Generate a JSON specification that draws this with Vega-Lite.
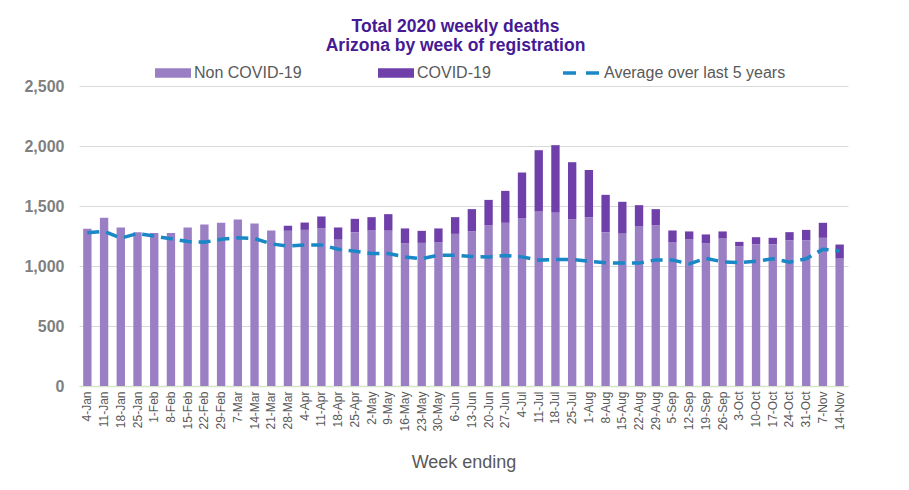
{
  "$schema": "https://vega.github.io/schema/vega-lite/v6.json",
  "width": 769,
  "height": 300,
  "autosize": {"type": "none"},
  "padding": {"left": 79, "top": 86, "right": 61, "bottom": 104},
  "background": "white",
  "config": {
    "font": "Liberation Sans",
    "view": {"stroke": null}
  },
  "title": {
    "text": ["Total 2020 weekly deaths", "Arizona by week of registration"],
    "font": "Liberation Sans",
    "fontSize": 17.5,
    "fontWeight": "bold",
    "color": "#451A94",
    "lineHeight": 19,
    "anchor": "middle",
    "offset": 12,
    "dx": -8,
    "dy": 13
  },
  "datasets": {
    "bars": [
      {"week": "4-Jan", "type": "Non COVID-19", "deaths": 1310}, {"week": "4-Jan", "type": "COVID-19", "deaths": 0},
      {"week": "11-Jan", "type": "Non COVID-19", "deaths": 1402}, {"week": "11-Jan", "type": "COVID-19", "deaths": 0},
      {"week": "18-Jan", "type": "Non COVID-19", "deaths": 1321}, {"week": "18-Jan", "type": "COVID-19", "deaths": 0},
      {"week": "25-Jan", "type": "Non COVID-19", "deaths": 1282}, {"week": "25-Jan", "type": "COVID-19", "deaths": 0},
      {"week": "1-Feb", "type": "Non COVID-19", "deaths": 1274}, {"week": "1-Feb", "type": "COVID-19", "deaths": 0},
      {"week": "8-Feb", "type": "Non COVID-19", "deaths": 1274}, {"week": "8-Feb", "type": "COVID-19", "deaths": 0},
      {"week": "15-Feb", "type": "Non COVID-19", "deaths": 1321}, {"week": "15-Feb", "type": "COVID-19", "deaths": 0},
      {"week": "22-Feb", "type": "Non COVID-19", "deaths": 1346}, {"week": "22-Feb", "type": "COVID-19", "deaths": 0},
      {"week": "29-Feb", "type": "Non COVID-19", "deaths": 1360}, {"week": "29-Feb", "type": "COVID-19", "deaths": 0},
      {"week": "7-Mar", "type": "Non COVID-19", "deaths": 1388}, {"week": "7-Mar", "type": "COVID-19", "deaths": 0},
      {"week": "14-Mar", "type": "Non COVID-19", "deaths": 1354}, {"week": "14-Mar", "type": "COVID-19", "deaths": 0},
      {"week": "21-Mar", "type": "Non COVID-19", "deaths": 1296}, {"week": "21-Mar", "type": "COVID-19", "deaths": 0},
      {"week": "28-Mar", "type": "Non COVID-19", "deaths": 1293}, {"week": "28-Mar", "type": "COVID-19", "deaths": 42},
      {"week": "4-Apr", "type": "Non COVID-19", "deaths": 1301}, {"week": "4-Apr", "type": "COVID-19", "deaths": 61},
      {"week": "11-Apr", "type": "Non COVID-19", "deaths": 1315}, {"week": "11-Apr", "type": "COVID-19", "deaths": 97},
      {"week": "18-Apr", "type": "Non COVID-19", "deaths": 1224}, {"week": "18-Apr", "type": "COVID-19", "deaths": 97},
      {"week": "25-Apr", "type": "Non COVID-19", "deaths": 1282}, {"week": "25-Apr", "type": "COVID-19", "deaths": 111},
      {"week": "2-May", "type": "Non COVID-19", "deaths": 1296}, {"week": "2-May", "type": "COVID-19", "deaths": 111},
      {"week": "9-May", "type": "Non COVID-19", "deaths": 1299}, {"week": "9-May", "type": "COVID-19", "deaths": 133},
      {"week": "16-May", "type": "Non COVID-19", "deaths": 1188}, {"week": "16-May", "type": "COVID-19", "deaths": 125},
      {"week": "23-May", "type": "Non COVID-19", "deaths": 1193}, {"week": "23-May", "type": "COVID-19", "deaths": 100},
      {"week": "30-May", "type": "Non COVID-19", "deaths": 1196}, {"week": "30-May", "type": "COVID-19", "deaths": 117},
      {"week": "6-Jun", "type": "Non COVID-19", "deaths": 1268}, {"week": "6-Jun", "type": "COVID-19", "deaths": 139},
      {"week": "13-Jun", "type": "Non COVID-19", "deaths": 1288}, {"week": "13-Jun", "type": "COVID-19", "deaths": 186},
      {"week": "20-Jun", "type": "Non COVID-19", "deaths": 1338}, {"week": "20-Jun", "type": "COVID-19", "deaths": 213},
      {"week": "27-Jun", "type": "Non COVID-19", "deaths": 1360}, {"week": "27-Jun", "type": "COVID-19", "deaths": 266},
      {"week": "4-Jul", "type": "Non COVID-19", "deaths": 1396}, {"week": "4-Jul", "type": "COVID-19", "deaths": 383},
      {"week": "11-Jul", "type": "Non COVID-19", "deaths": 1454}, {"week": "11-Jul", "type": "COVID-19", "deaths": 511},
      {"week": "18-Jul", "type": "Non COVID-19", "deaths": 1449}, {"week": "18-Jul", "type": "COVID-19", "deaths": 558},
      {"week": "25-Jul", "type": "Non COVID-19", "deaths": 1388}, {"week": "25-Jul", "type": "COVID-19", "deaths": 477},
      {"week": "1-Aug", "type": "Non COVID-19", "deaths": 1407}, {"week": "1-Aug", "type": "COVID-19", "deaths": 392},
      {"week": "8-Aug", "type": "Non COVID-19", "deaths": 1282}, {"week": "8-Aug", "type": "COVID-19", "deaths": 311},
      {"week": "15-Aug", "type": "Non COVID-19", "deaths": 1274}, {"week": "15-Aug", "type": "COVID-19", "deaths": 261},
      {"week": "22-Aug", "type": "Non COVID-19", "deaths": 1329}, {"week": "22-Aug", "type": "COVID-19", "deaths": 178},
      {"week": "29-Aug", "type": "Non COVID-19", "deaths": 1338}, {"week": "29-Aug", "type": "COVID-19", "deaths": 136},
      {"week": "5-Sep", "type": "Non COVID-19", "deaths": 1196}, {"week": "5-Sep", "type": "COVID-19", "deaths": 100},
      {"week": "12-Sep", "type": "Non COVID-19", "deaths": 1221}, {"week": "12-Sep", "type": "COVID-19", "deaths": 67},
      {"week": "19-Sep", "type": "Non COVID-19", "deaths": 1188}, {"week": "19-Sep", "type": "COVID-19", "deaths": 75},
      {"week": "26-Sep", "type": "Non COVID-19", "deaths": 1229}, {"week": "26-Sep", "type": "COVID-19", "deaths": 59},
      {"week": "3-Oct", "type": "Non COVID-19", "deaths": 1163}, {"week": "3-Oct", "type": "COVID-19", "deaths": 38},
      {"week": "10-Oct", "type": "Non COVID-19", "deaths": 1182}, {"week": "10-Oct", "type": "COVID-19", "deaths": 58},
      {"week": "17-Oct", "type": "Non COVID-19", "deaths": 1182}, {"week": "17-Oct", "type": "COVID-19", "deaths": 53},
      {"week": "24-Oct", "type": "Non COVID-19", "deaths": 1215}, {"week": "24-Oct", "type": "COVID-19", "deaths": 67},
      {"week": "31-Oct", "type": "Non COVID-19", "deaths": 1215}, {"week": "31-Oct", "type": "COVID-19", "deaths": 86},
      {"week": "7-Nov", "type": "Non COVID-19", "deaths": 1235}, {"week": "7-Nov", "type": "COVID-19", "deaths": 125},
      {"week": "14-Nov", "type": "Non COVID-19", "deaths": 1062}, {"week": "14-Nov", "type": "COVID-19", "deaths": 117}
    ],
    "avg": [
      {"week": "4-Jan", "avg": 1277}, {"week": "11-Jan", "avg": 1290}, {"week": "18-Jan", "avg": 1232},
      {"week": "25-Jan", "avg": 1271}, {"week": "1-Feb", "avg": 1249}, {"week": "8-Feb", "avg": 1227},
      {"week": "15-Feb", "avg": 1204}, {"week": "22-Feb", "avg": 1199}, {"week": "29-Feb", "avg": 1222},
      {"week": "7-Mar", "avg": 1235}, {"week": "14-Mar", "avg": 1229}, {"week": "21-Mar", "avg": 1185},
      {"week": "28-Mar", "avg": 1165}, {"week": "4-Apr", "avg": 1176}, {"week": "11-Apr", "avg": 1176},
      {"week": "18-Apr", "avg": 1140}, {"week": "25-Apr", "avg": 1124}, {"week": "2-May", "avg": 1104},
      {"week": "9-May", "avg": 1104}, {"week": "16-May", "avg": 1076}, {"week": "23-May", "avg": 1060},
      {"week": "30-May", "avg": 1090}, {"week": "6-Jun", "avg": 1090}, {"week": "13-Jun", "avg": 1079},
      {"week": "20-Jun", "avg": 1076}, {"week": "27-Jun", "avg": 1087}, {"week": "4-Jul", "avg": 1076},
      {"week": "11-Jul", "avg": 1049}, {"week": "18-Jul", "avg": 1054}, {"week": "25-Jul", "avg": 1054},
      {"week": "1-Aug", "avg": 1040}, {"week": "8-Aug", "avg": 1027}, {"week": "15-Aug", "avg": 1024},
      {"week": "22-Aug", "avg": 1024}, {"week": "29-Aug", "avg": 1051}, {"week": "5-Sep", "avg": 1049},
      {"week": "12-Sep", "avg": 1018}, {"week": "19-Sep", "avg": 1063}, {"week": "26-Sep", "avg": 1035},
      {"week": "3-Oct", "avg": 1029}, {"week": "10-Oct", "avg": 1040}, {"week": "17-Oct", "avg": 1060},
      {"week": "24-Oct", "avg": 1032}, {"week": "31-Oct", "avg": 1060}, {"week": "7-Nov", "avg": 1140},
      {"week": "14-Nov", "avg": 1125}
    ]
  },
  "layer": [
    {
      "data": {"name": "bars"},
      "mark": {"type": "bar"},
      "encoding": {
        "x": {
          "field": "week", "type": "nominal", "sort": null,
          "scale": {"paddingInner": 0.5, "paddingOuter": 0.25},
          "title": "Week ending",
          "axis": {
            "labelAngle": -90, "labelFontSize": 12, "labelColor": "#595959",
            "labelPadding": 5, "ticks": false, "domainColor": "#D7E4C8", "domainWidth": 1.5,
            "titleFontSize": 18, "titleFontWeight": "normal", "titleColor": "#595959",
            "titlePadding": 22, "labelOverlap": false
          }
        },
        "y": {
          "field": "deaths", "type": "quantitative", "stack": "zero",
          "scale": {"domain": [0, 2500], "nice": false},
          "axis": {
            "title": null, "values": [0, 500, 1000, 1500, 2000, 2500], "format": ",.0f",
            "labelFontSize": 16, "labelFontWeight": "bold", "labelColor": "#7F7F7F",
            "domain": false, "ticks": false, "gridColor": "#D9D9D9", "labelPadding": 15
          }
        },
        "color": {
          "field": "type", "type": "nominal",
          "scale": {
            "domain": ["Non COVID-19", "COVID-19"],
            "range": ["#9B7FC5", "#6F3FAA"]
          },
          "legend": {
            "title": null, "orient": "none", "direction": "horizontal",
            "legendX": 76, "legendY": -31, "labelLimit": 0,
            "labelFontSize": 16, "labelColor": "#595959", "labelFont": "Liberation Sans",
            "labelOffset": 3, "columnPadding": 76, "symbolSize": 1296,
            "symbolType": "M-1,-0.27H1V0.27H-1Z", "symbolStrokeWidth": 0, "symbolOpacity": 1
          }
        },
        "order": {"field": "type", "sort": "descending"}
      }
    },
    {
      "data": {"name": "avg"},
      "mark": {"type": "line", "strokeDash": [12, 7], "strokeWidth": 3.5},
      "encoding": {
        "x": {"field": "week", "type": "nominal", "sort": null},
        "y": {"field": "avg", "type": "quantitative"},
        "stroke": {
          "datum": "Average over last 5 years", "type": "nominal",
          "scale": {"domain": ["Average over last 5 years"], "range": ["#1A87C6"]},
          "legend": {
            "title": null, "orient": "none", "direction": "horizontal",
            "legendX": 482, "legendY": -33, "labelLimit": 0,
            "labelFontSize": 16, "labelColor": "#595959", "labelFont": "Liberation Sans",
            "labelOffset": 3, "symbolSize": 1296, "symbolType": "stroke",
            "symbolStrokeWidth": 3.5, "symbolDash": [13, 10], "symbolOpacity": 1
          }
        }
      }
    }
  ]
}
